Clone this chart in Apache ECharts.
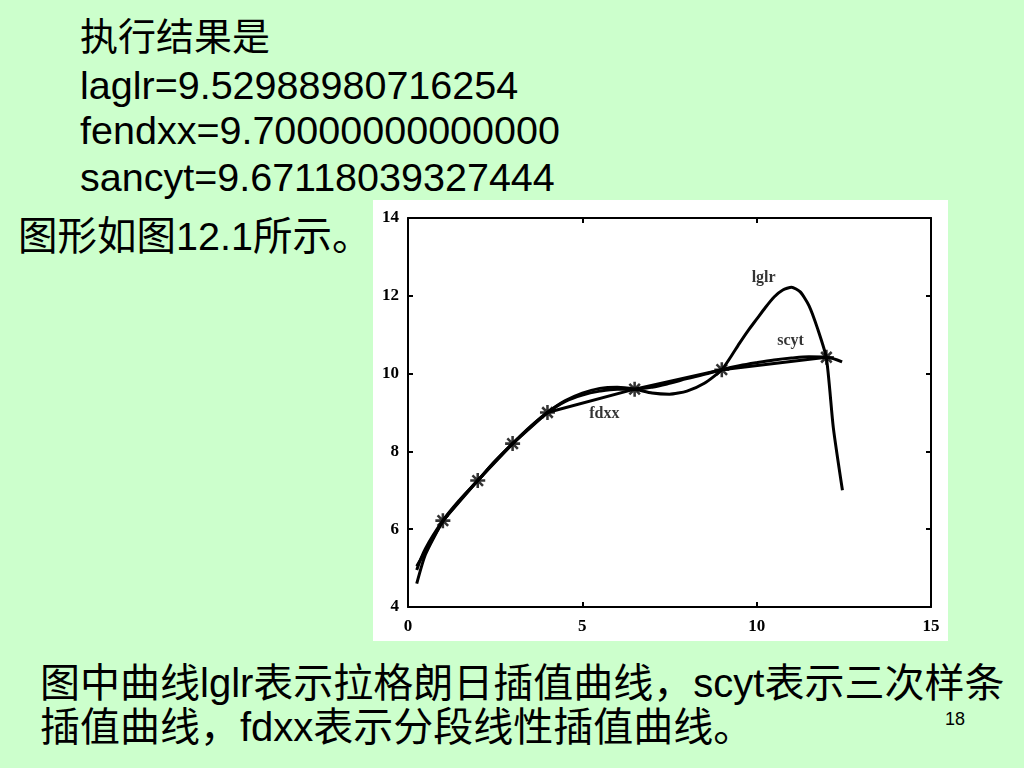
<!DOCTYPE html>
<html>
<head>
<meta charset="utf-8">
<script src="https://cdn.jsdelivr.net/npm/echarts@6/dist/echarts.min.js"></script>
<style>
  html, body { margin:0; padding:0; width:1024px; height:768px; background:#ccffcc; overflow:hidden; }
  .t { position:absolute; white-space:nowrap; color:#000; font-family:"Liberation Sans","Noto Sans CJK SC",sans-serif; line-height:1; }
  #chart { position:absolute; left:373px; top:200px; width:575px; height:441px; background:#fff; }
</style>
</head>
<body>
<div class="t" style="left:80px; top:18px; font-size:38px;">执行结果是</div>
<div class="t" style="left:80px; top:66px; font-size:39.5px;">laglr=9.52988980716254</div>
<div class="t" style="left:80px; top:111px; font-size:39.5px;">fendxx=9.70000000000000</div>
<div class="t" style="left:80px; top:158px; font-size:39.5px;">sancyt=9.67118039327444</div>
<div class="t" style="left:18px; top:217px; font-size:39.5px;">图形如图12.1所示。</div>
<div id="chart"></div>
<div class="t" style="left:40px; top:663px; font-size:40px;">图中曲线lglr表示拉格朗日插值曲线，scyt表示三次样条</div>
<div class="t" style="left:40px; top:707px; font-size:40px;">插值曲线，fdxx表示分段线性插值曲线。</div>
<div class="t" style="left:945px; top:710px; font-size:18px;">18</div>
<script>
// ---- data ----
var nodeX = [1, 2, 3, 4, 6.5, 9, 12];
var nodeY = [6.22, 7.25, 8.2, 9.0, 9.6, 10.1, 10.42];

var lglrX = [0.25, 0.5, 1, 1.5, 2, 2.5, 3, 3.5, 4, 4.5, 5, 5.5, 6, 6.5, 7, 7.5, 8, 8.5, 9, 9.25, 9.5, 9.75, 10, 10.25, 10.5, 10.75, 11, 11.25, 11.5, 11.75, 12, 12.2, 12.46];
var lglrY = [4.6, 5.35, 6.2, 6.75, 7.25, 7.75, 8.2, 8.62, 9.0, 9.3, 9.5, 9.62, 9.65, 9.6, 9.5, 9.47, 9.55, 9.75, 10.1, 10.42, 10.77, 11.1, 11.4, 11.7, 11.97, 12.15, 12.22, 12.1, 11.75, 11.15, 10.4, 8.6, 7.0];

var scytX = [0.25, 0.5, 1, 1.5, 2, 2.5, 3, 3.5, 4, 4.5, 5, 5.5, 6, 6.5, 7, 7.5, 8, 8.5, 9, 9.5, 10, 10.5, 11, 11.5, 12, 12.45];
var scytY = [4.95, 5.5, 6.22, 6.77, 7.25, 7.75, 8.2, 8.63, 9.0, 9.28, 9.45, 9.55, 9.6, 9.6, 9.65, 9.75, 9.87, 9.98, 10.1, 10.2, 10.28, 10.35, 10.4, 10.43, 10.42, 10.3];

var fdxxX = [0.25, 1, 2, 3, 4, 6.5, 9, 12];
var fdxxY = [5.05, 6.22, 7.25, 8.2, 9.0, 9.6, 10.1, 10.42];

var annoX = [10.2, 10.97, 5.63];
var annoY = [12.45, 10.83, 8.97];
var annoText = ['lglr', 'scyt', 'fdxx'];

var xTicks = {min: 0, max: 15, interval: 5};
var yTicks = {min: 4, max: 14, interval: 2};

// ---- build ----
function pairs(xs, ys) { return xs.map(function (x, i) { return [x, ys[i]]; }); }
var star = 'path://M-1.7,-10L1.7,-10L1.7,10L-1.7,10Z M-10,-1.7L10,-1.7L10,1.7L-10,1.7Z M-5.8,-8.2L8.2,5.8L5.8,8.2L-8.2,-5.8Z M-8.2,5.8L5.8,-8.2L8.2,-5.8L-5.8,8.2Z';
var lab = {color:'#000', fontFamily:'Liberation Serif', fontWeight:'bold', fontSize:17};
var axLine = {show:true, onZero:false, lineStyle:{color:'#000', width:2}};
var tick = {show:true, inside:true, length:5, lineStyle:{color:'#000', width:2}};

var chart = echarts.init(document.getElementById('chart'), null, {renderer:'canvas'});
chart.setOption({
  animation:false,
  backgroundColor:'#fff',
  grid:{left:35, top:18, right:17, bottom:34},
  xAxis:[
    {type:'value', position:'bottom', min:xTicks.min, max:xTicks.max, interval:xTicks.interval,
     axisLine:axLine, axisTick:tick, splitLine:{show:false},
     axisLabel:Object.assign({margin:11}, lab)},
    {type:'value', position:'top', min:xTicks.min, max:xTicks.max, interval:xTicks.interval,
     axisLine:axLine, axisTick:tick, splitLine:{show:false}, axisLabel:{show:false}}
  ],
  yAxis:[
    {type:'value', position:'left', min:yTicks.min, max:yTicks.max, interval:yTicks.interval,
     axisLine:axLine, axisTick:tick, splitLine:{show:false},
     axisLabel:Object.assign({margin:9}, lab)},
    {type:'value', position:'right', min:yTicks.min, max:yTicks.max, interval:yTicks.interval,
     axisLine:axLine, axisTick:tick, splitLine:{show:false}, axisLabel:{show:false}}
  ],
  series:[
    {name:'lglr', type:'line', data:pairs(lglrX, lglrY), smooth:0.2, showSymbol:false,
     lineStyle:{color:'#000', width:3}},
    {name:'scyt', type:'line', data:pairs(scytX, scytY), smooth:0.35, showSymbol:false,
     lineStyle:{color:'#000', width:3}},
    {name:'fdxx', type:'line', data:pairs(fdxxX, fdxxY), smooth:false, showSymbol:false,
     lineStyle:{color:'#000', width:3}},
    {name:'nodes', type:'scatter', data:pairs(nodeX, nodeY), symbol:star, symbolSize:15,
     itemStyle:{color:'#000'}},
    {name:'labels', type:'scatter', symbolSize:0, silent:true,
     data:annoX.map(function (x, i) { return {value:[x, annoY[i]], name:annoText[i]}; }),
     label:{show:true, position:'inside', formatter:'{b}', color:'#000',
            fontFamily:'Liberation Serif', fontWeight:'bold', fontSize:16}}
  ]
});
</script>
</body>
</html>
